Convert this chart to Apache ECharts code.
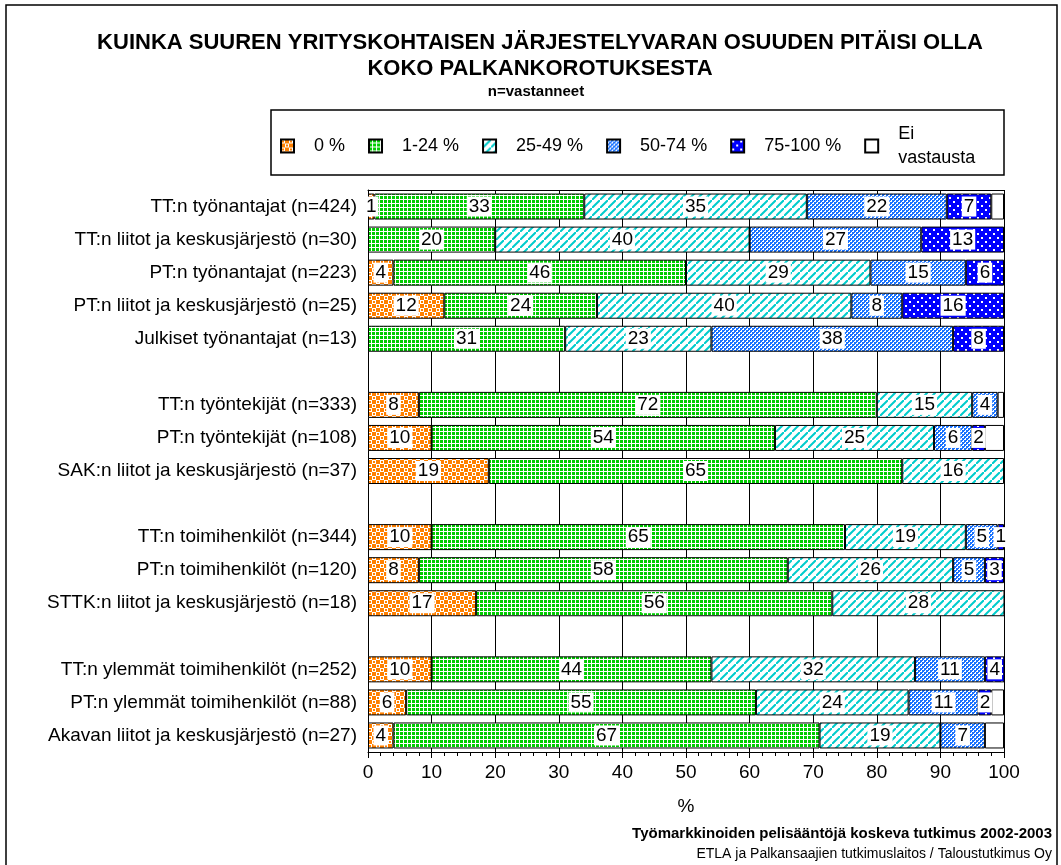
<!DOCTYPE html>
<html>
<head>
<meta charset="utf-8">
<script src="https://cdn.jsdelivr.net/npm/echarts@6/dist/echarts.min.js"></script>
<style>
  html, body { margin: 0; padding: 0; background: #fff; }
  #chart { width: 1061px; height: 865px; }
</style>
</head>
<body>
<div id="chart"></div>
<script>
// ryhmät (tyhjät rivit = välit ryhmien välissä)
const categories = [
  'TT:n työnantajat (n=424)',
  'TT:n liitot ja keskusjärjestö (n=30)',
  'PT:n työnantajat (n=223)',
  'PT:n liitot ja keskusjärjestö (n=25)',
  'Julkiset työnantajat (n=13)',
  '',
  'TT:n työntekijät (n=333)',
  'PT:n työntekijät (n=108)',
  'SAK:n liitot ja keskusjärjestö (n=37)',
  '',
  'TT:n toimihenkilöt (n=344)',
  'PT:n toimihenkilöt (n=120)',
  'STTK:n liitot ja keskusjärjestö (n=18)',
  '',
  'TT:n ylemmät toimihenkilöt (n=252)',
  'PT:n ylemmät toimihenkilöt (n=88)',
  'Akavan liitot ja keskusjärjestö (n=27)'
];
const seriesNames = ['0 %', '1-24 %', '25-49 %', '50-74 %', '75-100 %', 'Ei vastausta'];

const v0 = [1, 0, 4, 12, 0, '-', 8, 10, 19, '-', 10, 8, 17, '-', 10, 6, 4];
const v1 = [33, 20, 46, 24, 31, '-', 72, 54, 65, '-', 65, 58, 56, '-', 44, 55, 67];
const v25 = [35, 40, 29, 40, 23, '-', 15, 25, 16, '-', 19, 26, 28, '-', 32, 24, 19];
const v50 = [22, 27, 15, 8, 38, '-', 4, 6, 0, '-', 5, 5, 0, '-', 11, 11, 7];
const v75 = [7, 13, 6, 16, 8, '-', 0, 2, 0, '-', 1, 3, 0, '-', 4, 2, 0];
const vEi = [2, 0, 0, 0, 0, '-', 1, 3, 0, '-', 0, 0, 0, '-', 0, 2, 3];

const xTicks = [0, 10, 20, 30, 40, 50, 60, 70, 80, 90, 100];

// kuviot (Excel-tyyliset täytöt)
function tile(w, h, draw) {
  const c = document.createElement('canvas');
  c.width = w; c.height = h;
  draw(c.getContext('2d'));
  return { image: c, repeat: 'repeat' };
}
const patOrange = tile(8, 8, g => {
  g.fillStyle = '#ff8000'; g.fillRect(0, 0, 8, 8);
  g.fillStyle = '#fff'; g.fillRect(0, 0, 4, 4); g.fillRect(4, 4, 4, 4);
  g.fillStyle = '#ff8000'; g.fillRect(1, 1, 2, 2); g.fillRect(5, 5, 2, 2);
});
const patGreen = tile(4, 4, g => {
  g.fillStyle = '#fff'; g.fillRect(0, 0, 4, 4);
  g.fillStyle = '#00cc00'; g.fillRect(0, 0, 3, 2); g.fillRect(0, 2, 3, 1);
});
const patCyan = tile(8, 8, g => {
  g.fillStyle = '#fff'; g.fillRect(0, 0, 8, 8);
  g.strokeStyle = '#00cccc'; g.lineWidth = 2;
  g.beginPath(); g.moveTo(-1, 9); g.lineTo(9, -1); g.stroke();
});
const patBlue = tile(4, 4, g => {
  g.fillStyle = '#fff'; g.fillRect(0, 0, 4, 4);
  g.fillStyle = '#1a73ff'; g.fillRect(0, 0, 2, 2); g.fillRect(2, 2, 2, 2);
  g.fillRect(0, 2, 1, 1); g.fillRect(2, 0, 1, 1);
});
const patDark = tile(8, 8, g => {
  g.fillStyle = '#0000ff'; g.fillRect(0, 0, 8, 8);
  g.fillStyle = '#fff'; g.fillRect(1, 1, 2, 2); g.fillRect(5, 5, 2, 2);
});
const fills = [patOrange, patGreen, patCyan, patBlue, patDark, '#ffffff'];
const values = [v0, v1, v25, v50, v75, vEi];

const myChart = echarts.init(document.getElementById('chart'));

const series = seriesNames.map((name, i) => ({
  name: name,
  type: 'bar',
  stack: 'all',
  barWidth: 26,
  clip: true,
  itemStyle: {
    color: fills[i],
    borderColor: '#000',
    borderWidth: 1
  },
  label: {
    show: i < 5,
    position: 'inside',
    color: '#000',
    fontFamily: 'Liberation Sans, Arial',
    fontSize: 19,
    backgroundColor: '#fff',
    padding: [1, 2, 0, 2],
    formatter: p => p.value
  },
  data: values[i].map(v => (v === 0 ? '-' : v))
}));

const option = {
  animation: false,
  backgroundColor: '#fff',
  textStyle: { fontFamily: 'Liberation Sans, Arial' },
  title: [
    {
      text: 'KUINKA SUUREN YRITYSKOHTAISEN JÄRJESTELYVARAN OSUUDEN PITÄISI OLLA\nKOKO PALKANKOROTUKSESTA',
      left: 535,
      top: 25,
      textAlign: 'center',
      textStyle: { fontSize: 22, fontWeight: 'bold', color: '#000', lineHeight: 26 }
    },
    {
      text: 'n=vastanneet',
      left: 531,
      top: 79,
      textAlign: 'center',
      textStyle: { fontSize: 15, fontWeight: 'bold', color: '#000' }
    },
    {
      text: 'Työmarkkinoiden pelisääntöjä koskeva tutkimus 2002-2003',
      right: 4,
      top: 821,
      textStyle: { fontSize: 15, fontWeight: 'bold', color: '#000' }
    },
    {
      text: 'ETLA ja Palkansaajien tutkimuslaitos / Taloustutkimus Oy',
      right: 4,
      top: 842,
      textStyle: { fontSize: 14, fontWeight: 'normal', color: '#000' }
    }
  ],
  legend: {
    left: 275,
    top: 117,
    icon: 'rect',
    itemWidth: 13,
    itemHeight: 13,
    itemGap: 23,
    data: seriesNames,
    formatter: n => n.replace(' vastausta', '\nvastausta'),
    textStyle: { fontSize: 18, color: '#000', padding: [0, 0, 0, 15], lineHeight: 24 }
  },
  graphic: [
    {
      type: 'rect',
      shape: { x: 6, y: 5, width: 1051, height: 880 },
      style: { fill: null, stroke: '#000', lineWidth: 1.5 },
      silent: true
    },
    {
      type: 'rect',
      shape: { x: 271, y: 110, width: 733, height: 65 },
      style: { fill: null, stroke: '#000', lineWidth: 1.5 },
      silent: true,
      z: -1
    }
  ],
  grid: { left: 368, right: 57, top: 190, bottom: 113 },
  xAxis: [
    {
      type: 'value',
      min: xTicks[0],
      max: xTicks[xTicks.length - 1],
      interval: 10,
      name: '%',
      nameLocation: 'middle',
      nameGap: 45,
      nameTextStyle: { fontSize: 19, color: '#000' },
      axisLine: { show: true, lineStyle: { color: '#000', width: 1 } },
      axisTick: { show: true, length: 6, lineStyle: { color: '#000' } },
      minorTick: { show: true, splitNumber: 5, length: 4, lineStyle: { color: '#000' } },
      axisLabel: { fontSize: 19, color: '#000', margin: 11 },
      splitLine: { show: true, lineStyle: { color: '#000', width: 1 } }
    },
    {
      type: 'value',
      position: 'top',
      min: 0,
      max: 100,
      axisLine: { show: true, lineStyle: { color: '#000', width: 1 } },
      axisTick: { show: false },
      axisLabel: { show: false },
      splitLine: { show: false }
    }
  ],
  yAxis: {
    type: 'category',
    inverse: true,
    data: categories,
    axisLine: { show: true, lineStyle: { color: '#000' } },
    axisTick: { show: false },
    axisLabel: { fontSize: 19, color: '#000', margin: 11 }
  },
  series: series
};

myChart.setOption(option);
window.onresize = function () {
  myChart.resize();
};
</script>
</body>
</html>
